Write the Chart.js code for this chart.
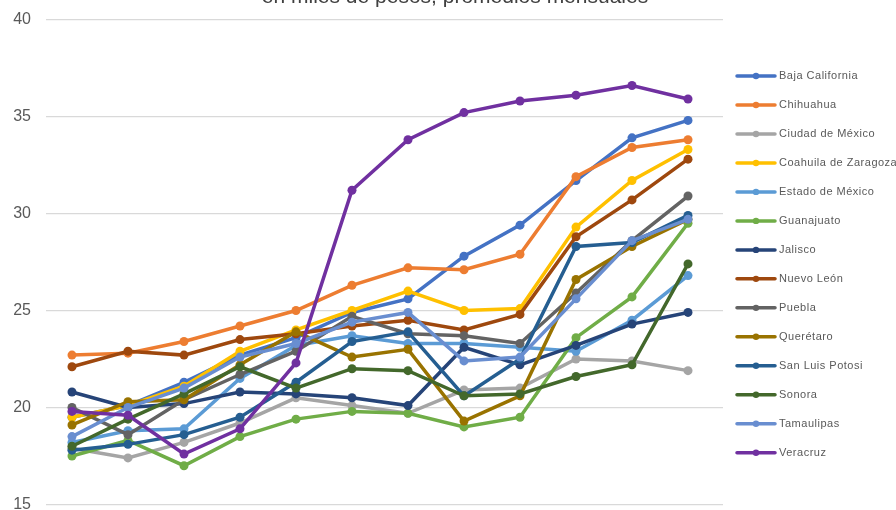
<!DOCTYPE html>
<html><head><meta charset="utf-8">
<script src="https://cdn.jsdelivr.net/npm/chart.js@4.4.1/dist/chart.umd.min.js"></script>
<style>html,body{margin:0;padding:0;background:#fff;overflow:hidden}#wrap{position:relative;width:896px;height:510px}</style>
</head><body><div id="wrap"><canvas id="c" width="896" height="510"></canvas></div>
<script>
const titleText = "en miles de pesos, promedios mensuales";
const periodos = [1,2,3,4,5,6,7,8,9,10,11,12];
const yTicks = [15,20,25,30,35,40];

const estados = ["Baja California","Chihuahua","Ciudad de México","Coahuila de Zaragoza","Estado de México","Guanajuato","Jalisco","Nuevo León","Puebla","Querétaro","San Luis Potosi","Sonora","Tamaulipas","Veracruz"];

const bajaCalifornia = [19.5,20.1,21.3,22.7,23.6,24.9,25.6,27.8,29.4,31.7,33.9,34.8];
const chihuahua      = [22.7,22.8,23.4,24.2,25.0,26.3,27.2,27.1,27.9,31.9,33.4,33.8];
const cdmx           = [17.9,17.4,18.2,19.2,20.5,20.1,19.7,20.9,21.0,22.5,22.4,21.9];
const coahuila       = [19.5,20.1,21.1,22.9,24.0,25.0,26.0,25.0,25.1,29.3,31.7,33.3];
const edomex         = [18.2,18.8,18.9,21.5,23.2,23.7,23.3,23.3,23.1,22.9,24.5,26.8];
const guanajuato     = [17.5,18.3,17.0,18.5,19.4,19.8,19.7,19.0,19.5,23.6,25.7,29.5];
const jalisco        = [20.8,20.0,20.2,20.8,20.7,20.5,20.1,23.1,22.2,23.2,24.3,24.9];
const nuevoLeon      = [22.1,22.9,22.7,23.5,23.8,24.2,24.5,24.0,24.8,28.8,30.7,32.8];
const puebla         = [20.0,18.6,20.4,21.7,22.9,24.7,23.8,23.7,23.3,25.9,28.6,30.9];
const queretaro      = [19.1,20.3,20.4,22.2,23.9,22.6,23.0,19.3,20.6,26.6,28.3,29.7];
const sanLuisPotosi  = [17.8,18.1,18.6,19.5,21.3,23.4,23.9,20.6,22.5,28.3,28.5,29.9];
const sonora         = [18.0,19.4,20.7,22.1,21.0,22.0,21.9,20.6,20.7,21.6,22.2,27.4];
const tamaulipas     = [18.5,20.0,21.0,22.6,23.3,24.4,24.9,22.4,22.6,25.6,28.6,29.7];
const veracruz       = [19.8,19.6,17.6,18.9,22.3,31.2,33.8,35.2,35.8,36.1,36.6,35.9];

const series = [bajaCalifornia,chihuahua,cdmx,coahuila,edomex,guanajuato,jalisco,nuevoLeon,puebla,queretaro,sanLuisPotosi,sonora,tamaulipas,veracruz];
const colores = ["#4472C4","#ED7D31","#A5A5A5","#FFC000","#5B9BD5","#70AD47","#264478","#9E480E","#636363","#997300","#255E91","#43682B","#698ED0","#7030A0"];

const datasets = series.map((vals,i)=>({
  label: estados[i],
  data: vals.map((v,j)=>({x: periodos[j], y: v})),
  borderColor: colores[i],
  backgroundColor: colores[i],
  pointBackgroundColor: colores[i],
  pointBorderColor: colores[i],
  borderWidth: 3.5,
  pointRadius: 4.5,
  pointBorderWidth: 0,
  pointHoverRadius: 4.5,
  tension: 0,
  order: series.length - i
}));

const titlePlugin = {
  id: 'titleCut',
  afterDraw(chart){
    const ctx = chart.ctx;
    ctx.save();
    ctx.font = '21px "Liberation Sans", Arial, sans-serif';
    ctx.fillStyle = '#404040';
    ctx.textAlign = 'center';
    ctx.textBaseline = 'alphabetic';
    ctx.fillText(titleText, 455, 3);
    ctx.restore();
  }
};

const legendPlugin = {
  id: 'lineLegend',
  afterDraw(chart){
    const ctx = chart.ctx;
    ctx.save();
    chart.data.datasets.forEach((ds,i)=>{
      const y = 76 + i*28.98;
      ctx.strokeStyle = ds.borderColor;
      ctx.lineWidth = 3.5;
      ctx.lineCap = 'round';
      ctx.beginPath(); ctx.moveTo(737,y); ctx.lineTo(775,y); ctx.stroke();
      ctx.fillStyle = ds.borderColor;
      ctx.beginPath(); ctx.arc(756,y,3.2,0,Math.PI*2); ctx.fill();
      ctx.fillStyle = '#595959';
      ctx.font = '11px "Liberation Sans", Arial, sans-serif';
      try { ctx.letterSpacing = '0.5px'; } catch(e) {}
      ctx.textAlign = 'left';
      ctx.textBaseline = 'middle';
      ctx.fillText(ds.label, 779, y);
    });
    ctx.restore();
  }
};

new Chart(document.getElementById('c'), {
  type: 'line',
  data: { datasets },
  plugins: [titlePlugin, legendPlugin],
  options: {
    responsive: false,
    animation: false,
    events: [],
    layout: { autoPadding: false, padding: { left: 0, top: 19.5, right: 173, bottom: 5.5 } },
    plugins: { legend: { display: false }, title: { display: false }, tooltip: { enabled: false } },
    scales: {
      x: { type: 'linear', min: 0.536, max: 12.625, display: false },
      y: {
        min: 15, max: 40,
        afterFit(scale){ scale.width = 46; scale.paddingTop = 0; scale.paddingBottom = 0; },
        afterBuildTicks(scale){ scale.ticks = yTicks.map(v=>({value:v})); },
        border: { display: false },
        grid: { color: '#D9D9D9', lineWidth: 1.2, drawTicks: false },
        ticks: { color: '#595959', padding: 15, font: { size: 16, family: '"Liberation Sans", Arial, sans-serif' } }
      }
    }
  }
});
</script></body></html>
